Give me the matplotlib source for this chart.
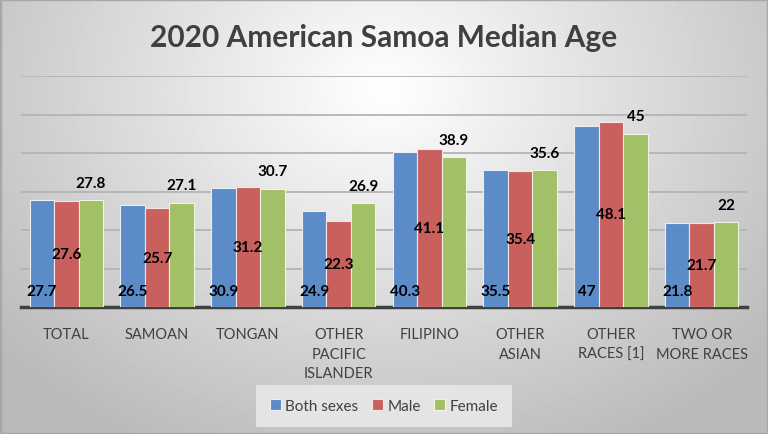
import numpy as np
import matplotlib.pyplot as plt

categories = ['TOTAL', 'SAMOAN', 'TONGAN', 'OTHER\nPACIFIC\nISLANDER', 'FILIPINO',
              'OTHER\nASIAN', 'OTHER\nRACES [1]', 'TWO OR\nMORE RACES']
both = [27.7, 26.5, 30.9, 24.9, 40.3, 35.5, 47, 21.8]
male = [27.6, 25.7, 31.2, 22.3, 41.1, 35.4, 48.1, 21.7]
female = [27.8, 27.1, 30.7, 26.9, 38.9, 35.6, 45, 22]

plt.rcParams['font.family'] = ['Lato', 'DejaVu Sans']

fig = plt.figure(figsize=(7.68, 4.35), dpi=100)

# gradient background
bg = fig.add_axes([0, 0, 1, 1], zorder=-10)
yy, xx = np.mgrid[0:435, 0:768]
d = np.sqrt(((xx - 384) / 500.0) ** 2 + ((yy - 90) / 400.0) ** 2)
shade = 1.0 - 0.27 * np.clip(d, 0, 1)
bg.imshow(shade, cmap='gray', vmin=0, vmax=1, aspect='auto', extent=[0, 1, 0, 1])
bg.axis('off')
fig.patches.append(plt.Rectangle((0, 0), 1, 1, transform=fig.transFigure,
                                 fill=False, edgecolor='#a8a8a8', lw=2.5))

ax = fig.add_axes([21 / 768, (435 - 308) / 435, 726 / 768, 231 / 435])
ax.patch.set_alpha(0)

x = np.arange(len(categories))
w = 0.27
colors = ['#5b8cc8', '#c9605e', '#a2c166']
ax.bar(x - w, both, w, color=colors[0], edgecolor='#e8eef5', lw=0.8, label='Both sexes', zorder=3)
ax.bar(x, male, w, color=colors[1], edgecolor='#f3e5e5', lw=0.8, label='Male', zorder=3)
ax.bar(x + w, female, w, color=colors[2], edgecolor='#eef3e4', lw=0.8, label='Female', zorder=3)

lab = dict(fontsize=11, fontweight='bold', color='black', zorder=5)
for i in range(len(categories)):
    ax.text(x[i] - w, 4.2, f'{both[i]:g}', ha='center', va='center', **lab)
    ax.text(x[i], male[i] / 2, f'{male[i]:g}', ha='center', va='center', **lab)
    ax.text(x[i] + w, female[i] + 4.5, f'{female[i]:g}', ha='center', va='center', **lab)

ax.set_xlim(-0.5, 7.5)
ax.set_ylim(0, 60)
ax.set_yticks(range(0, 61, 10))
ax.yaxis.grid(True, color='#b4b4b4', lw=1.3, zorder=0)
ax.tick_params(left=False, labelleft=False, bottom=False)
for s in ['top', 'right', 'left']:
    ax.spines[s].set_visible(False)
ax.spines['bottom'].set_color('#404040')
ax.spines['bottom'].set_linewidth(2.5)
ax.set_xticks(x)
ax.set_xticklabels(categories, fontsize=10.5, color='#404040', linespacing=1.5, va='top')
ax.tick_params(axis='x', pad=11)

fig.text(0.5, 1 - 38 / 435, '2020 American Samoa Median Age', ha='center', va='center',
         fontsize=21.5, fontweight='bold', color='#404040')

leg = fig.legend(loc='center', bbox_to_anchor=(384 / 768, 1 - 407 / 435), ncol=3,
                 frameon=True, fontsize=11, handlelength=0.7, handleheight=0.7,
                 handletextpad=0.3, columnspacing=0.9, borderpad=0.6)
leg.get_frame().set_facecolor('#e4e4e4')
leg.get_frame().set_edgecolor('none')
leg.get_frame().set_alpha(1)
leg.get_frame().set_boxstyle('square')
for t in leg.get_texts():
    t.set_color('#404040')

fig.savefig('out.png', dpi=100)
